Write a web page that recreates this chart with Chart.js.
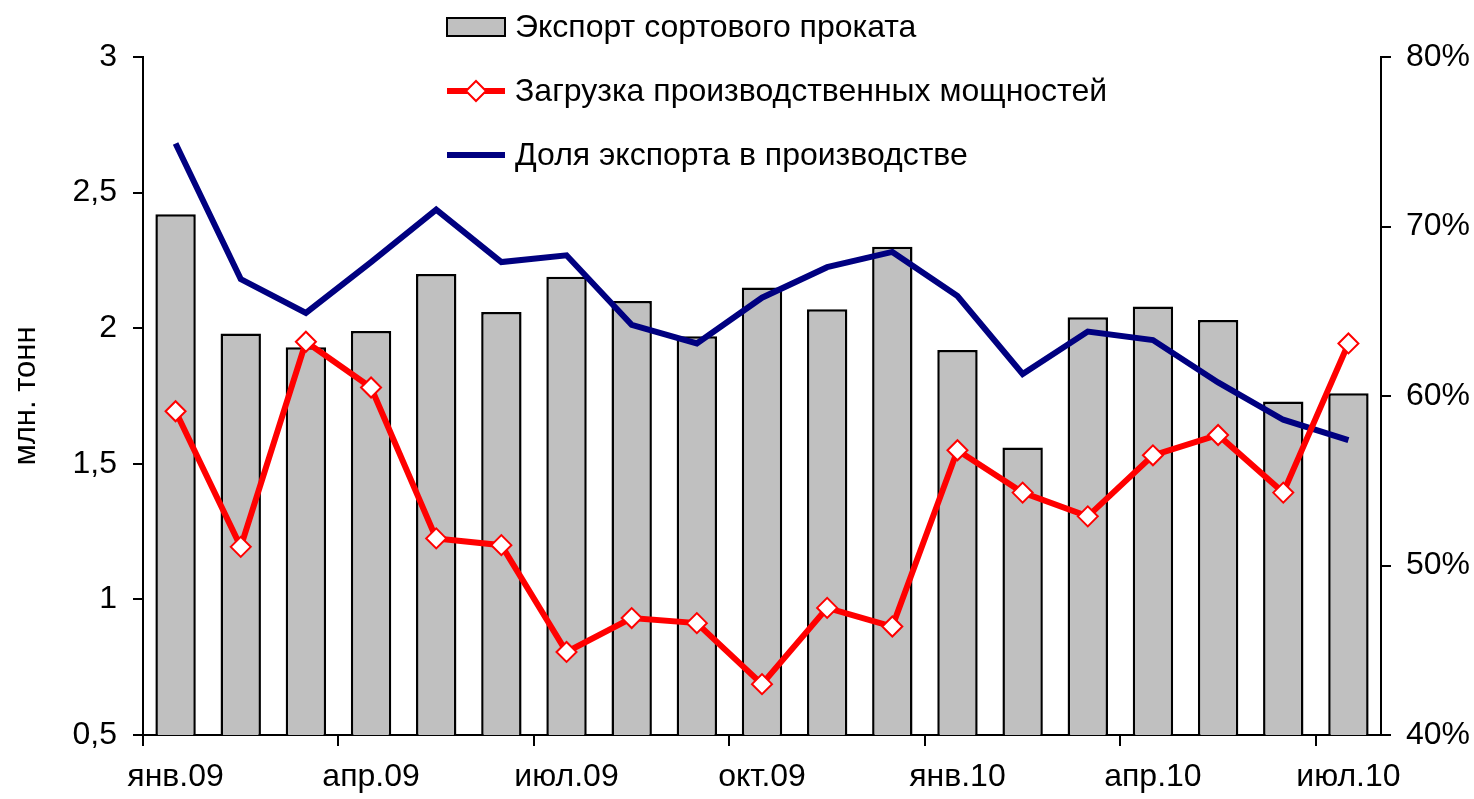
<!DOCTYPE html>
<html lang="ru">
<head>
<meta charset="utf-8">
<title>Экспорт сортового проката</title>
<script src="https://cdn.jsdelivr.net/npm/chart.js@4.4.1/dist/chart.umd.min.js"></script>
<style>
    html, body { margin: 0; padding: 0; background: #fff; }
    #wrap { position: relative; width: 1474px; height: 799px; }
</style>
</head>
<body>
<div id="wrap"><canvas id="chart"></canvas></div>
<script>
// Data
const months = ['янв.09', 'фев.09', 'мар.09', 'апр.09', 'май.09', 'июн.09', 'июл.09', 'авг.09', 'сен.09',
    'окт.09', 'ноя.09', 'дек.09', 'янв.10', 'фев.10', 'мар.10', 'апр.10', 'май.10', 'июн.10', 'июл.10'];
const exportVolume = [2.42, 1.98, 1.93, 1.99, 2.20, 2.06, 2.19, 2.10, 1.97, 2.15,
    2.07, 2.30, 1.92, 1.56, 2.04, 2.08, 2.03, 1.73, 1.76];
const capacityLoad = [59.1, 51.1, 63.2, 60.5, 51.6, 51.2, 44.9, 46.9, 46.6, 43.0,
    47.5, 46.4, 56.8, 54.3, 52.9, 56.5, 57.7, 54.3, 63.1];
const exportShare = [74.9, 66.9, 64.9, 67.9, 71.0, 67.9, 68.3, 64.2, 63.1, 65.8,
    67.6, 68.5, 65.9, 61.3, 63.8, 63.3, 60.8, 58.6, 57.4];
const leftTicks = { min: 0.5, max: 3, step: 0.5 };
const rightTicks = { min: 40, max: 80, step: 10 };

const seriesNames = ['Экспорт сортового проката', 'Загрузка производственных мощностей', 'Доля экспорта в производстве'];

const FONT_FAMILY = '"Liberation Sans", Arial, sans-serif';
const FONT_SIZE = 32;

// Legend drawn in the upper middle, like in the original
const sideLegend = {
    id: 'sideLegend',
    afterDraw(chart) {
        const ctx = chart.ctx;
        const x0 = 447, x1 = 505, textX = 515;
        const rows = [27, 91, 155];
        ctx.save();
        ctx.font = FONT_SIZE + 'px ' + FONT_FAMILY;
        ctx.textBaseline = 'middle';

        // bars
        ctx.fillStyle = '#c0c0c0';
        ctx.fillRect(x0, rows[0] - 9, x1 - x0, 18);
        ctx.strokeStyle = '#000';
        ctx.lineWidth = 2;
        ctx.strokeRect(x0, rows[0] - 9, x1 - x0, 18);

        // red line with diamond
        ctx.strokeStyle = '#ff0000';
        ctx.lineWidth = 6;
        ctx.beginPath();
        ctx.moveTo(x0, rows[1]);
        ctx.lineTo(x1, rows[1]);
        ctx.stroke();
        const cx = (x0 + x1) / 2, r = 10;
        ctx.beginPath();
        ctx.moveTo(cx - r, rows[1]);
        ctx.lineTo(cx, rows[1] - r);
        ctx.lineTo(cx + r, rows[1]);
        ctx.lineTo(cx, rows[1] + r);
        ctx.closePath();
        ctx.fillStyle = '#fff';
        ctx.fill();
        ctx.lineWidth = 2;
        ctx.stroke();

        // blue line
        ctx.strokeStyle = '#000080';
        ctx.lineWidth = 6;
        ctx.beginPath();
        ctx.moveTo(x0, rows[2]);
        ctx.lineTo(x1, rows[2]);
        ctx.stroke();

        ctx.fillStyle = '#000';
        seriesNames.forEach((name, i) => ctx.fillText(name, textX, rows[i] + 1));
        ctx.restore();
    }
};

const ctx = document.getElementById('chart').getContext('2d');
const chart = new Chart(ctx, {
    data: {
        labels: months,
        datasets: [
            {
                type: 'line',
                label: seriesNames[1],
                data: capacityLoad,
                yAxisID: 'y1',
                borderColor: '#ff0000',
                borderWidth: 6,
                pointStyle: 'rectRot',
                pointRadius: 10,
                pointBackgroundColor: '#ffffff',
                pointBorderColor: '#ff0000',
                pointBorderWidth: 2,
                tension: 0,
                order: 0
            },
            {
                type: 'line',
                label: seriesNames[2],
                data: exportShare,
                yAxisID: 'y1',
                borderColor: '#000080',
                borderWidth: 6,
                pointRadius: 0,
                tension: 0,
                order: 1
            },
            {
                type: 'bar',
                label: seriesNames[0],
                data: exportVolume,
                yAxisID: 'y',
                backgroundColor: '#c0c0c0',
                borderColor: '#000000',
                borderWidth: 2.5,
                categoryPercentage: 1,
                barPercentage: 0.62,
                order: 2
            }
        ]
    },
    options: {
        responsive: true,
        maintainAspectRatio: false,
        animation: false,
        layout: { padding: { top: 57, left: 0, right: 0, bottom: 0 } },
        plugins: {
            legend: { display: false },
            tooltip: { enabled: false }
        },
        scales: {
            x: {
                type: 'category',
                offset: true,
                grid: {
                    display: true,
                    drawOnChartArea: false,
                    offset: true,
                    tickLength: 11,
                    lineWidth: 2,
                    color: c => (c.index % 3 === 0 ? '#000' : 'rgba(0,0,0,0)')
                },
                border: { display: true, color: '#000', width: 2 },
                ticks: {
                    autoSkip: false,
                    maxRotation: 0,
                    padding: 12,
                    color: '#000',
                    font: { family: FONT_FAMILY, size: FONT_SIZE },
                    callback: (v, i) => (i % 3 === 0 ? months[i] : '')
                },
                afterFit: s => { s.height = 64; }
            },
            y: {
                position: 'left',
                min: leftTicks.min,
                max: leftTicks.max,
                grid: { drawOnChartArea: false, tickLength: 10, lineWidth: 2, color: '#000' },
                border: { display: true, color: '#000', width: 2 },
                ticks: {
                    stepSize: leftTicks.step,
                    padding: 16,
                    color: '#000',
                    font: { family: FONT_FAMILY, size: FONT_SIZE },
                    callback: v => String(v).replace('.', ',')
                },
                title: {
                    display: true,
                    text: 'млн. тонн',
                    color: '#000',
                    padding: { top: 8, bottom: 0 },
                    font: { family: FONT_FAMILY, size: 31 }
                },
                afterFit: s => { s.width = 143; }
            },
            y1: {
                position: 'right',
                min: rightTicks.min,
                max: rightTicks.max,
                grid: { drawOnChartArea: false, tickLength: 10, lineWidth: 2, color: '#000' },
                border: { display: true, color: '#000', width: 2 },
                ticks: {
                    stepSize: rightTicks.step,
                    padding: 15,
                    color: '#000',
                    font: { family: FONT_FAMILY, size: FONT_SIZE },
                    callback: v => v + '%'
                },
                afterFit: s => { s.width = 93; }
            }
        }
    },
    plugins: [sideLegend]
});
</script>
</body>
</html>
